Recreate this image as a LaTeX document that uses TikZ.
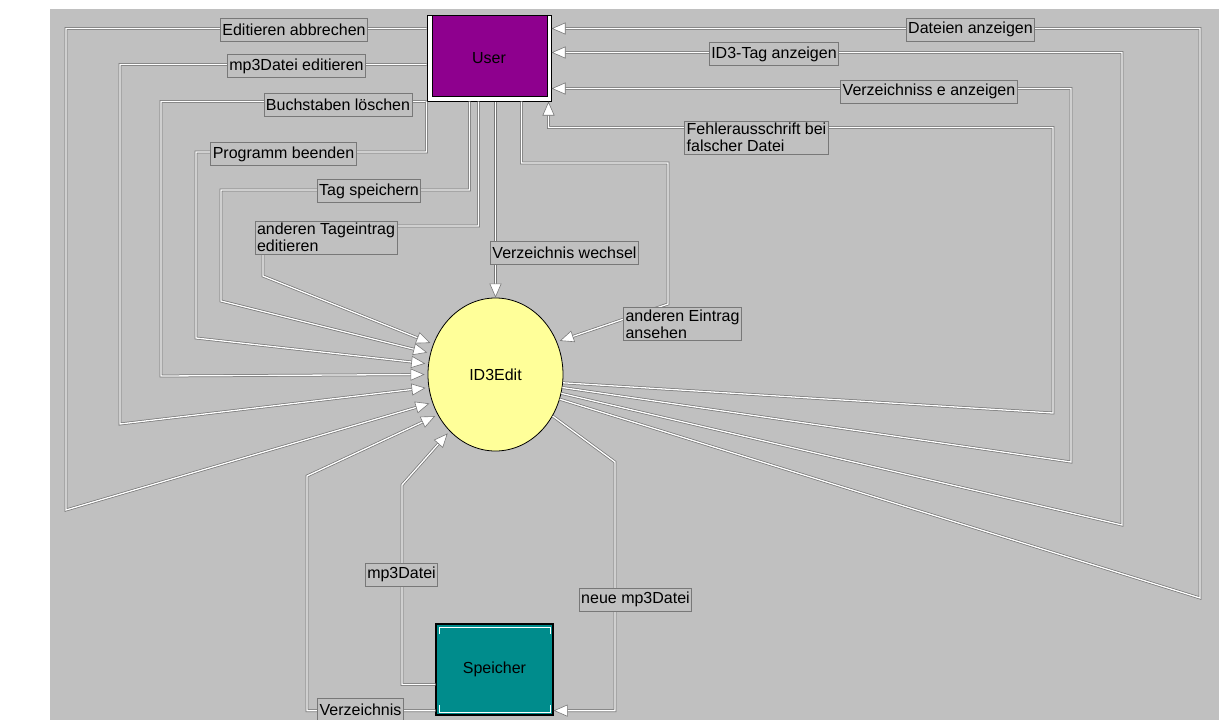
\documentclass[tikz,border=0pt]{standalone}
\usepackage{fontspec}
\setmainfont{Liberation Sans}
\usetikzlibrary{shapes.geometric,arrows.meta,calc}
\definecolor{bg}{RGB}{192,192,192}
\definecolor{lgray}{RGB}{120,120,120}
\definecolor{upurple}{RGB}{142,0,142}
\definecolor{eyellow}{RGB}{255,255,153}
\definecolor{steal}{RGB}{0,140,140}
\begin{document}
\begin{tikzpicture}[x=1pt,y=-1pt,
  conn/.style={draw=lgray, line width=0.75pt, double=white, double distance=1.3pt},
  arr/.style={conn, -{Triangle[length=14pt,width=12pt,fill=white,line width=0.6pt]}},
  earr/.style={arr, shorten >=3pt},
  lbl/.style={fill=bg, draw=lgray, line width=0.7pt, inner sep=2pt, font=\fontsize{16}{17}\selectfont, align=left, minimum height=23pt},
  txt/.style={font=\fontsize{16}{17}\selectfont}]

\useasboundingbox (0,0) rectangle (1219,720);
\fill[bg] (50,9) rectangle (1219,720);

% main nodes
\node[txt, draw=black, line width=1pt, fill=white, minimum width=124pt, minimum height=86pt, inner sep=0pt,
  path picture={\draw[black, line width=1pt, fill=upurple] ([xshift=5pt]path picture bounding box.north west) rectangle ([xshift=-4pt,yshift=5pt]path picture bounding box.south east);}] (user) at (489,58) {User};

\node[txt, ellipse, draw=black, line width=0.8pt, fill=eyellow, minimum width=135pt, minimum height=153pt, inner sep=0pt] (ed) at (495.5,374.5) {ID3Edit};

\node[txt, draw=black, line width=1.2pt, fill=steal, minimum width=117pt, minimum height=91pt, inner sep=0pt, path picture={
  \draw[white, line width=1pt] ([shift={(3pt,-10pt)}]path picture bounding box.north west) -- ([shift={(3pt,-3pt)}]path picture bounding box.north west) -- ([shift={(-3pt,-3pt)}]path picture bounding box.north east) -- ([shift={(-3pt,-10pt)}]path picture bounding box.north east);
  \draw[white, line width=1pt] ([shift={(3pt,10pt)}]path picture bounding box.south west) -- ([shift={(3pt,3pt)}]path picture bounding box.south west) -- ([shift={(-3pt,3pt)}]path picture bounding box.south east) -- ([shift={(-3pt,10pt)}]path picture bounding box.south east);
}] (sp) at (494.5,669.5) {Speicher};

% User -> ID3Edit (left)
\draw[earr] ($(user.north west)+(0,14)$) -| (66,510) -- (ed.204);
\draw[earr] ($(user.north west)+(0,50)$) -| (120,424) -- (ed.191);
\draw[earr] (user.south west) -| (161,376) -- (ed.180);
\draw[earr] (user.south west) |- (196,152) -- (196,338) -- (ed.171);
\draw[earr] ($(user.south west)+(43,0)$) |- (221,190) -- (221,301) -- (ed.162);
\draw[earr] ($(user.south west)+(52,0)$) |- (263,226) -- (263,276) -- (ed.154);
\draw[arr] (ed.north |- user.south) -- (ed.north);
\draw[earr] ($(user.south west)+(95,0)$) |- (668,163) -- (668,304) -- (ed.28);

% ID3Edit -> User (right)
\draw[arr] (ed.-7) -- (1053,413) |- ($(user.south east)+(-3,26)$) -- ($(user.south east)+(-3,0)$);
\draw[arr] (ed.-11.5) -- (1071,462) |- ($(user.north east)+(0,74)$);
\draw[arr] (ed.-16) -- (1122,525) |- ($(user.north east)+(0,38)$);
\draw[arr] (ed.-21) -- (1200,598) |- ($(user.north east)+(0,14)$);

% Speicher <-> ID3Edit
\draw[earr] ($(sp.north west)+(0,61)$) -| (402,485) -- (ed.231);
\draw[earr] ($(sp.south west)+(0,-5)$) -| (307,476) -- (ed.215);
\draw[arr] (ed.-36) -- (615,462) |- ($(sp.south east)+(0,-5)$);

% labels
\node[lbl] (l1) at (294,29.5) {Editieren abbrechen};
\node[lbl] (l2) at (296.5,66) {mp3Datei editieren};
\node[lbl] (l3) at (338,105) {Buchstaben löschen};
\node[lbl] (l4) at (283.5,154) {Programm beenden};
\node[lbl] (l5) at (369,191) {Tag speichern};
\node[lbl] (l6) at (326,237.5) {anderen Tageintrag\\editieren};
\node[lbl] (l7) at (564.5,252.5) {Verzeichnis wechsel};
\node[lbl] (l8) at (682.5,324) {anderen Eintrag\\ansehen};
\node[lbl] (r1) at (970.5,29.5) {Dateien anzeigen};
\node[lbl] (r2) at (774,54) {ID3-Tag anzeigen};
\node[lbl] (r3) at (929,91.5) {Verzeichniss e anzeigen};
\node[lbl] (r4) at (756.5,137.5) {Fehlerausschrift bei\\falscher Datei};
\node[lbl] (b1) at (401.5,574.5) {mp3Datei};
\node[lbl] (b2) at (635.5,599.5) {neue mp3Datei};
\node[lbl] (b3) at (360.5,710) {Verzeichnis};
\end{tikzpicture}
\end{document}
